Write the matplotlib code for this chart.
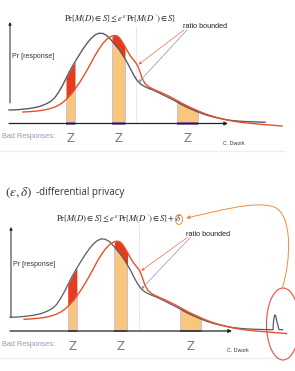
import numpy as np
import matplotlib
matplotlib.use('Agg')
import matplotlib.pyplot as plt
from matplotlib.patches import Ellipse, Rectangle, FancyArrowPatch
from matplotlib.path import Path

plt.rcParams['mathtext.fontset'] = 'stix'

# ---------------- data ----------------
nan = float('nan')
# positions along the response axis (shared grid)
response_x = [9, 14, 19, 23, 27, 31, 35, 39, 43, 47, 51, 55, 59, 63, 66, 69, 72, 75, 79,
              83, 87, 91, 95, 99, 103, 107, 110, 112, 114.5, 117, 119.5, 122, 125, 128,
              131, 134, 136, 138, 140, 142, 145, 149, 153, 157, 161, 165, 169, 173, 177,
              181.5, 186, 190.5, 194, 198, 203, 208, 213, 218, 224, 230, 237, 244, 251,
              258, 265, 272, 282]
# density of M(D)  (grey curve)
pr_M_D = [13.5, 13.6, 13.9, 14.3, 14.7, 15.3, 16.0, 16.9, 18.3, 20.0, 22.3, 26.0, 32.0,
          39.0, 45.0, 51.0, 56.5, 61.7, 68.2, 74.5, 80.2, 85.0, 88.5, 90.3, 90.0, 87.7,
          84.7, 82.5, 79.5, 76.5, 73.3, 69.5, 64.7, 59.5, 53.5, 48.0, 44.7, 42.0, 40.0,
          38.5, 36.8, 35.0, 33.5, 31.7, 29.7, 27.7, 25.7, 23.7, 21.5, 19.0, 16.7, 14.7,
          13.2, 11.5, 9.6, 8.0, 6.6, 5.5, 4.2, 3.2, 2.5, 2.0, 1.7, 1.5, 1.3, nan, nan]
# density of M(D')  (red curve)
pr_M_Dprime = [nan, nan, nan, 11.5, 11.7, 12.0, 12.3, 12.7, 13.3, 14.1, 15.2, 16.5, 18.5,
               21.2, 24.0, 27.3, 30.5, 34.5, 40.0, 46.5, 53.2, 60.5, 68.0, 74.5, 80.2,
               84.5, 86.5, 87.5, 88.1, 87.7, 85.7, 82.0, 77.0, 71.5, 66.7, 63.0, 60.5,
               57.0, 51.5, 45.5, 40.0, 36.5, 34.5, 32.7, 31.0, 29.2, 27.3, 25.2, 23.0,
               20.5, 18.2, 16.0, 14.5, 12.7, 10.6, 8.7, 7.1, 5.7, 4.2, 2.9, 1.7, 0.8, 0.1,
               -0.5, -1.1, -1.7, -2.5]
# extra tail of M(D) in the (eps, delta) picture: the small delta bump
delta_tail_x = [268.6, 269.2, 270.2, 271.2, 272.5, 274.6, 278]
delta_tail_y = [1.3, 10.0, 15.5, 15.5, 9.0, 1.3, 1.3]
bad_regions = [(66, 75), (112, 125), (177, 198)]
bad_labels = ['Z', 'Z', 'Z']

# ---------------- layout ----------------
W, H = 295, 371
fig = plt.figure(figsize=(W / 100, H / 100), dpi=100)
ax = fig.add_axes([0, 0, 1, 1])
ax.set_xlim(0, W)
ax.set_ylim(H, 0)
ax.axis('off')

GREY = '#575c63'
RED = '#ea4f2c'
FILL_RED = '#e63b1f'
ORANGE_FILL = '#f9c77c'
PURPLE = '#7b5ea7'
ORANGE = '#f08a3c'
NARROW = 'Liberation Sans'

panels = [
    dict(x0=10, base=123.5, sx=1.0, sy=1.0, axis_end=228, ytop=22, ybot=103, dot_top=27),
    dict(x0=11, base=331.0, sx=1.013, sy=1.02, axis_end=232, ytop=227, ybot=317, dot_top=220),
]

x_arr = np.array(response_x, dtype=float)
g_arr = np.array(pr_M_D, dtype=float)
r_arr = np.array(pr_M_Dprime, dtype=float)


def tx(x, p):
    return p['x0'] + (np.asarray(x, dtype=float) - 10) * p['sx']


def ty(d, p):
    return p['base'] - np.asarray(d, dtype=float) * p['sy']


for i, p in enumerate(panels):
    # shaded "bad response" regions
    for (a, b), lab in zip(bad_regions, bad_labels):
        m = (x_arr >= a) & (x_arr <= b)
        xs = tx(x_arr[m], p)
        lo = np.minimum(g_arr[m], r_arr[m])
        hi = np.maximum(g_arr[m], r_arr[m])
        ax.fill_between(xs, ty(0, p) * np.ones_like(xs), ty(lo, p), color=ORANGE_FILL,
                        lw=0, zorder=2)
        ax.fill_between(xs, ty(lo, p), ty(hi, p), color=FILL_RED, lw=0, zorder=2)
        ax.plot([xs[0], xs[0]], [ty(0, p), ty(lo[0], p)], color='#cbb6e2', lw=0.6, zorder=2)
        ax.plot([xs[-1], xs[-1]], [ty(0, p), ty(lo[-1], p)], color='#cbb6e2', lw=0.6, zorder=2)
        ax.add_patch(Rectangle((xs[0], ty(0, p) - 1.5), xs[-1] - xs[0], 2.5,
                               color=PURPLE, lw=0, alpha=0.85, zorder=3))
        ax.text((xs[0] + xs[-1]) / 2, p['base'] + 15, lab, color='#7a7a7a',
                fontsize=8.5, ha='center', va='center', family='DejaVu Sans')

    # dotted vertical line
    xd = tx(136, p)
    ax.plot([xd, xd], [p['dot_top'], p['base'] - 1], color='#c9cdd2', lw=0.6,
            ls=(0, (1, 1)), zorder=1)

    # curves
    gm = ~np.isnan(g_arr)
    rm = ~np.isnan(r_arr)
    if i == 0:
        ax.plot(tx(x_arr[gm], p), ty(g_arr[gm], p), color=GREY, lw=1.0, zorder=4)
    else:
        gx = np.concatenate([x_arr[gm], np.array(delta_tail_x)])
        gy = np.concatenate([g_arr[gm], np.array(delta_tail_y)])
        ax.plot(tx(gx, p), ty(gy, p), color=GREY, lw=0.9, zorder=4)
    ax.plot(tx(x_arr[rm], p), ty(r_arr[rm], p), color=RED, lw=1.0, zorder=5)

    # axes arrows
    ax.annotate('', xy=(p['axis_end'], p['base']), xytext=(p['x0'] - 1, p['base']),
                arrowprops=dict(arrowstyle='-|>', color='#222222', lw=0.9,
                                mutation_scale=5, shrinkA=0, shrinkB=0), zorder=6)
    ax.annotate('', xy=(p['x0'], p['ytop']), xytext=(p['x0'], p['ybot']),
                arrowprops=dict(arrowstyle='-|>', color='#222222', lw=0.7,
                                mutation_scale=4, shrinkA=0, shrinkB=0), zorder=6)

    # labels
    ax.text(p['x0'] + 2, p['base'] - 67, 'Pr [response]', fontsize=5.0, color='#333333',
            family=NARROW, va='center', ha='left')
    ax.text(2, p['base'] + 13.5, 'Bad Responses:', fontsize=5.2, color='#8d9bb0',
            family=NARROW, va='center', ha='left')
    ax.text(tx(223, p), p['base'] + 20, 'C. Dwork', fontsize=3.8, color='#333333',
            family=NARROW, va='center', ha='left')
    # separator line
    ax.plot([0, 285], [p['base'] + 27, p['base'] + 27], color='#eeeeee', lw=0.8, zorder=0)

    # "ratio bounded" annotation
    rb_x, rb_y = tx(183, p), p['base'] - 96.5
    ax.text(rb_x, rb_y, 'ratio bounded', fontsize=5.2, color='#222222',
            family=NARROW, va='center', ha='left')
    ax.annotate('', xy=(tx(138.5, p), ty(59, p)), xytext=(rb_x + 1, rb_y + 3),
                arrowprops=dict(arrowstyle='-|>', color='#ef6a5a', lw=0.5,
                                mutation_scale=4, shrinkA=0, shrinkB=0), zorder=6)
    ax.annotate('', xy=(tx(138.5, p), ty(41, p)), xytext=(rb_x + 4, rb_y + 3),
                arrowprops=dict(arrowstyle='-|>', color='#8b93a8', lw=0.5,
                                mutation_scale=4, shrinkA=0, shrinkB=0), zorder=6)

# formulas
ax.text(64, 19, r'$\mathrm{Pr}[M(D)\in S]\leq e^{\varepsilon}\,\mathrm{Pr}[M(D^{\prime})\in S]$',
        fontsize=6.2, color='#222222', va='center', ha='left')
ax.text(56, 219, r'$\mathrm{Pr}[M(D)\in S]\leq e^{\varepsilon}\,\mathrm{Pr}[M(D^{\prime})\in S]+\delta$',
        fontsize=6.2, color='#222222', va='center', ha='left')
ax.text(5, 193, r'$(\varepsilon,\delta)$', fontsize=9.5, color='#333333',
        va='center', ha='left')
ax.text(36, 193, '-differential privacy', fontsize=7.0, color='#333333',
        va='center', ha='left', family='Open Sans')

# delta circle, ellipse and curved arrow
ax.add_patch(Ellipse((179.0, 219.5), 7, 10, fill=False, ec=ORANGE, lw=0.7))
ax.add_patch(Ellipse((283, 324), 33, 72, fill=False, ec='#e0504a', lw=0.8))
path = Path([(282, 289), (291, 262), (293, 214), (274, 207),
             (255, 200), (215, 212), (186, 218)],
            [Path.MOVETO, Path.CURVE4, Path.CURVE4, Path.CURVE4,
             Path.CURVE4, Path.CURVE4, Path.CURVE4])
ax.add_patch(FancyArrowPatch(path=path, arrowstyle='-|>', mutation_scale=5,
                             color=ORANGE, lw=0.7))

fig.savefig('out.png', dpi=100)
